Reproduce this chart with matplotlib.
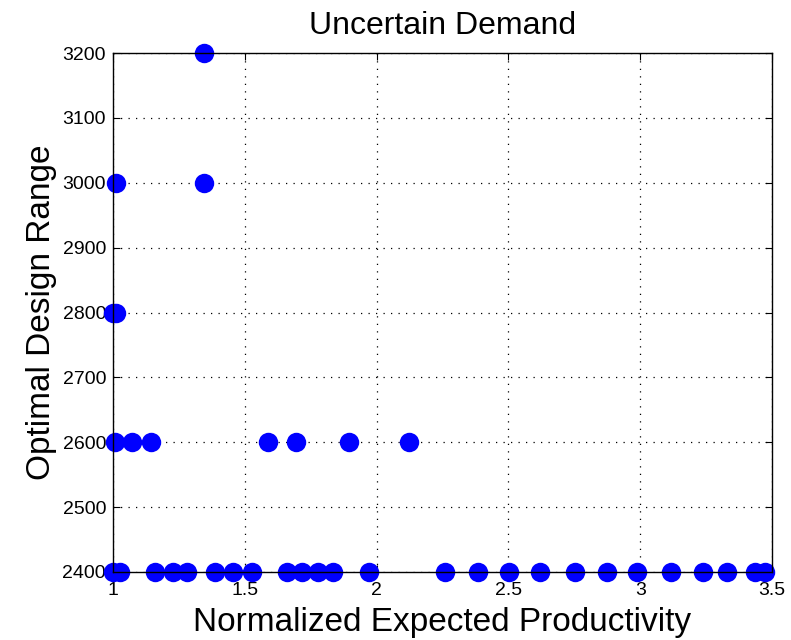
import numpy as np
import matplotlib
matplotlib.use('Agg')
import matplotlib.pyplot as plt

plt.rcParams['font.family'] = ['Liberation Sans', 'DejaVu Sans']

# productivity values for each design range level
prod_2400 = [1.0, 1.027, 1.159, 1.228, 1.281, 1.387, 1.455, 1.527, 1.660, 1.717,
             1.778, 1.835, 1.971, 2.26, 2.385, 2.502, 2.62, 2.753, 2.874, 2.988,
             3.117, 3.238, 3.329, 3.435, 3.473]
prod_2600 = [1.008, 1.072, 1.144, 1.588, 1.694, 1.895, 2.123]
prod_2800 = [1.0, 1.01]
prod_3000 = [1.01, 1.345]
prod_3200 = [1.345]

x = prod_2400 + prod_2600 + prod_2800 + prod_3000 + prod_3200
y = ([2400] * len(prod_2400) + [2600] * len(prod_2600) + [2800] * len(prod_2800)
     + [3000] * len(prod_3000) + [3200] * len(prod_3200))

xticks = [1, 1.5, 2, 2.5, 3, 3.5]
xticklabels = ['1', '1.5', '2', '2.5', '3', '3.5']
yticks = [2400, 2500, 2600, 2700, 2800, 2900, 3000, 3100, 3200]

fig = plt.figure(figsize=(7.91, 6.4), dpi=100)
ax = fig.add_axes([0.1429, 0.1063, 0.976 - 0.1429, 0.917 - 0.1063])

ax.plot(x, y, 'o', color='#0000ff', markersize=14, markeredgewidth=0,
        linestyle='none', clip_on=False, zorder=2)

ax.set_xlim(1, 3.5)
ax.set_ylim(2400, 3200)
ax.set_xticks(xticks)
ax.set_xticklabels(xticklabels)
ax.set_yticks(yticks)
ax.grid(True, color='black', linestyle=(0, (1, 5)), linewidth=0.9)
ax.tick_params(direction='in', length=5, labelsize=14, top=True, right=True)
ax.tick_params(axis='x', pad=7)
ax.tick_params(axis='y', pad=5)
for s in ax.spines.values():
    s.set_linewidth(1.0)
    s.set_zorder(3)

ax.set_title('Uncertain Demand', fontsize=23, pad=14)
ax.set_xlabel('Normalized Expected Productivity', fontsize=24, labelpad=6)
ax.set_ylabel('Optimal Design Range', fontsize=24, labelpad=4)

fig.savefig('out.png', dpi=100)
